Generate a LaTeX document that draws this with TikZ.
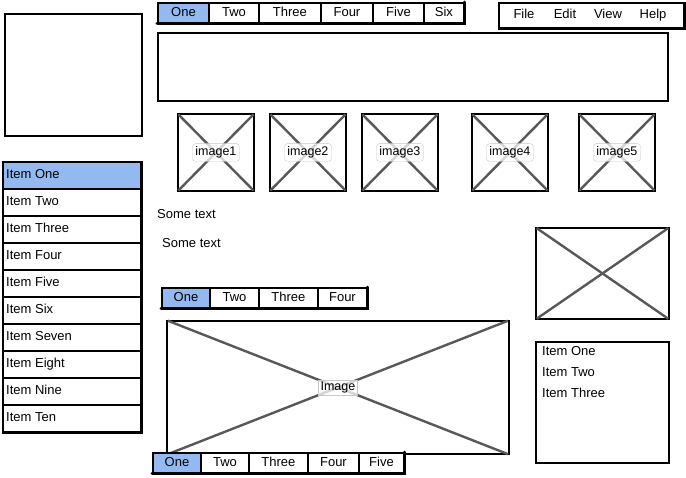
\documentclass[tikz,border=0pt]{standalone}
\usepackage{fontspec}
\setmainfont{Liberation Sans}
\usetikzlibrary{positioning}
\definecolor{tabblue}{RGB}{146,185,240}
\definecolor{xgray}{RGB}{88,88,88}
\tikzset{
  frame/.style={draw=black, line width=1.9pt, fill=white, inner sep=0pt, anchor=north west},
  tab/.style={frame, minimum height=20pt, text height=9.5pt, text depth=2.5pt, font=\fontsize{13}{15}\selectfont},
  shade/.style={draw=black, line width=3pt, line cap=round},
  cross/.style={draw=xgray, line width=2.4pt, shorten >=2pt, shorten <=2pt},
  caption/.style={draw=black!22, fill=white, fill opacity=0.75, text opacity=1, rounded corners=3pt, inner sep=3pt, font=\fontsize{12.5}{14}\selectfont},
  txt/.style={anchor=west, inner sep=0pt, text height=9.5pt, text depth=2.5pt, font=\fontsize{13}{15}\selectfont}
}
\begin{document}
\begin{tikzpicture}[x=1pt,y=-1pt]
  \useasboundingbox (0,0) rectangle (686,477);
  % top left panel and header
  \node[frame, minimum width=137pt, minimum height=122pt] (logo) at (4,13) {};
  \node[frame, minimum width=510pt, minimum height=68pt] (banner) at (157,32) {};
  % top tab bar
  \node[tab, fill=tabblue, minimum width=51pt] (topa) at (157,2) {One};
  \foreach \n/\x/\w/\t in {b/208/50/Two, c/258/62/Three, d/320/52/Four, e/372/51/Five, f/423/40/Six}
    \node[tab, minimum width=\w pt] (top\n) at (\x,2) {\t};
  \draw[shade] (topa.south west) -- (topf.south east) -- (topf.north east);
  % menu
  \node[frame, minimum width=185pt, minimum height=25pt] (menu) at (498,2) {};
  \node[txt, anchor=center] (mfile) at (524,15) {File};
  \node[txt, anchor=center] (medit) at (565,15) {Edit};
  \node[txt, anchor=center] (mview) at (608,15) {View};
  \node[txt, anchor=center] (mhelp) at (653,15) {Help};
  \draw[line width=2.4pt] (menu.south west) -- (menu.south east) -- (menu.north east);
  % image strip
  \foreach \n/\x in {1/177, 2/269, 3/361, 4/471, 5/578} {
    \node[frame, minimum width=76pt, minimum height=77pt] (img\n) at (\x,113) {};
    \draw[cross] (img\n.north west) -- (img\n.south east);
    \draw[cross] (img\n.north east) -- (img\n.south west);
    \node[caption] (cap\n) at (img\n.center) {image\n};
  }
  % side list
  \node[frame, fill=tabblue, minimum width=138pt, minimum height=27pt] (item1) at (2,161) {};
  \node[txt] at ([xshift=4pt]item1.west) {Item One};
  \foreach \n/\t in {2/Two, 3/Three, 4/Four, 5/Five, 6/Six, 7/Seven, 8/Eight, 9/Nine, 10/Ten} {
    \node[frame, minimum width=138pt, minimum height=27pt] (item\n) at (2,134+27*\n) {};
    \node[txt] at ([xshift=4pt]item\n.west) {Item \t};
  }
  \draw[line width=2.4pt] (item1.north east) -- (item10.south east) -- (item10.south west);
  % texts
  \node[txt] (text1) at (157,215) {Some text};
  \node[txt] (text2) at (162,244) {Some text};
  % middle tab bar
  \node[tab, fill=tabblue, minimum width=48pt] (mida) at (161,287) {One};
  \foreach \n/\x/\w/\t in {b/209/49/Two, c/258/59/Three, d/317/49/Four}
    \node[tab, minimum width=\w pt] (mid\n) at (\x,287) {\t};
  \draw[shade] (mida.south west) -- (midd.south east) -- (midd.north east);
  % main image
  \node[frame, minimum width=342pt, minimum height=133pt] (hero) at (166,320) {};
  \draw[cross] (hero.north west) -- (hero.south east);
  \draw[cross] (hero.north east) -- (hero.south west);
  \node[caption, rounded corners=0pt, inner sep=2pt] (herocap) at (hero.center) {Image};
  % bottom tab bar
  \node[tab, fill=tabblue, minimum width=48pt] (bota) at (152,452) {One};
  \foreach \n/\x/\w/\t in {b/200/48/Two, c/248/59/Three, d/307/51/Four, e/358/45/Five}
    \node[tab, minimum width=\w pt] (bot\n) at (\x,452) {\t};
  \draw[shade] (bota.south west) -- (bote.south east) -- (bote.north east);
  % right column
  \node[frame, minimum width=133pt, minimum height=91pt] (pic) at (535,227) {};
  \draw[cross] (pic.north west) -- (pic.south east);
  \draw[cross] (pic.north east) -- (pic.south west);
  \node[frame, minimum width=133pt, minimum height=121pt] (list) at (535,341) {};
  \node[txt] (list1) at (542,352) {Item One};
  \node[txt] (list2) at (542,373) {Item Two};
  \node[txt] (list3) at (542,394) {Item Three};
\end{tikzpicture}
\end{document}
